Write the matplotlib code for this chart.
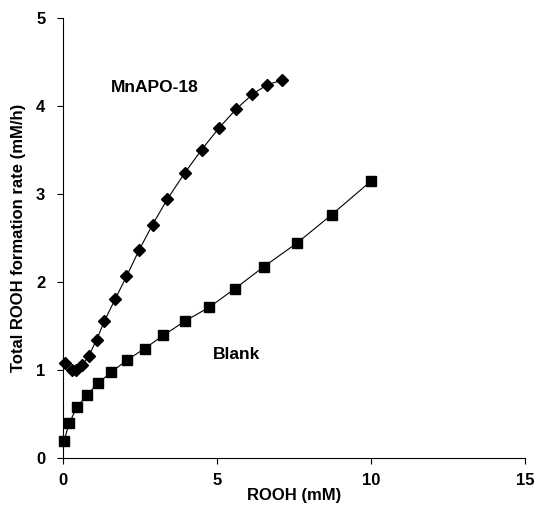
import matplotlib
matplotlib.use("Agg")
import matplotlib.pyplot as plt

plt.rcParams['font.family'] = ['Liberation Sans', 'DejaVu Sans']

# MnAPO-18 series
mn_x = [0.06, 0.27, 0.41, 0.62, 0.83, 1.08, 1.33, 1.68, 2.05, 2.46, 2.90, 3.38,
        3.95, 4.49, 5.06, 5.61, 6.14, 6.62, 7.11]
mn_y = [1.08, 1.00, 1.00, 1.05, 1.16, 1.34, 1.55, 1.80, 2.06, 2.36, 2.65, 2.94,
        3.24, 3.50, 3.75, 3.96, 4.13, 4.24, 4.29]

# Blank series
blank_x = [0.02, 0.19, 0.43, 0.76, 1.14, 1.55, 2.07, 2.64, 3.25, 3.94, 4.74,
           5.57, 6.51, 7.59, 8.71, 9.98]
blank_y = [0.19, 0.39, 0.57, 0.71, 0.85, 0.97, 1.11, 1.24, 1.39, 1.55, 1.71,
           1.92, 2.17, 2.44, 2.76, 3.14]

fig = plt.figure(figsize=(5.37, 5.23), dpi=100)
ax = fig.add_axes([0.118, 0.125, 0.860, 0.841])

ax.plot(mn_x, mn_y, color='black', lw=0.8, marker='D', ms=6, mfc='black', mec='black')
ax.plot(blank_x, blank_y, color='black', lw=0.8, marker='s', ms=6.5, mfc='black', mec='black')

ax.text(2.98, 4.21, 'MnAPO-18', ha='center', va='center', fontsize=12.5, fontweight='bold')
ax.text(5.63, 1.17, 'Blank', ha='center', va='center', fontsize=12.5, fontweight='bold')

ax.set_xlim(0, 15)
ax.set_ylim(0, 5)
ax.set_xticks([0, 5, 10, 15])
ax.set_yticks([0, 1, 2, 3, 4, 5])
ax.spines['top'].set_visible(False)
ax.spines['right'].set_visible(False)
ax.tick_params(direction='out', length=4, width=0.8, labelsize=12)
ax.tick_params(axis='x', pad=7)
ax.tick_params(axis='y', pad=9)
for lab in ax.get_xticklabels() + ax.get_yticklabels():
    lab.set_fontweight('bold')

ax.set_xlabel('ROOH (mM)', fontsize=12, fontweight='bold', labelpad=0)
ax.set_ylabel('Total ROOH formation rate (mM/h)', fontsize=12, fontweight='bold', labelpad=7)

for sp in ax.spines.values():
    sp.set_linewidth(0.8)
for line in ax.lines:
    line.set_clip_on(False)

fig.savefig('out.png', dpi=100)
